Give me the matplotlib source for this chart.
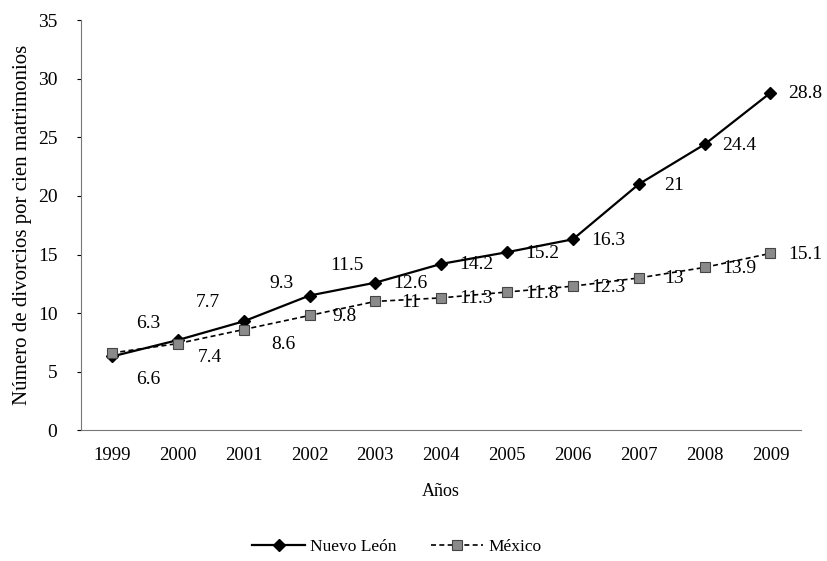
import matplotlib
matplotlib.use('Agg')
import matplotlib.pyplot as plt

plt.rcParams['font.family'] = ['Liberation Serif', 'DejaVu Serif']

# Data
years = [1999, 2000, 2001, 2002, 2003, 2004, 2005, 2006, 2007, 2008, 2009]
nuevo_leon = [6.3, 7.7, 9.3, 11.5, 12.6, 14.2, 15.2, 16.3, 21, 24.4, 28.8]
mexico = [6.6, 7.4, 8.6, 9.8, 11, 11.3, 11.8, 12.3, 13, 13.9, 15.1]
nl_labels = ['6.3', '7.7', '9.3', '11.5', '12.6', '14.2', '15.2', '16.3', '21', '24.4', '28.8']
mx_labels = ['6.6', '7.4', '8.6', '9.8', '11', '11.3', '11.8', '12.3', '13', '13.9', '15.1']

# label offsets in pixels (dx, dy)
nl_off = [(36, 33), (30, 38), (38, 38), (37, 30)] + [(35, -1)] * 7
mx_off = [(36, -27), (32, -14), (40, -15)] + [(35, -1)] * 8

fig = plt.figure(figsize=(8.27, 5.61), dpi=100)
ax = fig.add_axes([0.098, 0.233, 0.871, 0.731])

ax.plot(years, nuevo_leon, color='black', lw=1.6, marker='D', ms=6.5,
        mfc='black', mec='black', label='Nuevo León', zorder=3)
ax.plot(years, mexico, color='black', lw=1.2, ls=(0, (3, 2)), marker='s', ms=7.5,
        mfc='#8a8a8a', mec='#444444', mew=0.8, label='México', zorder=3)

for x, y, t, (dx, dy) in zip(years, nuevo_leon, nl_labels, nl_off):
    ax.annotate(t, (x, y), xytext=(dx, dy), textcoords='offset pixels',
                ha='center', va='center', fontsize=14)
for x, y, t, (dx, dy) in zip(years, mexico, mx_labels, mx_off):
    ax.annotate(t, (x, y), xytext=(dx, dy), textcoords='offset pixels',
                ha='center', va='center', fontsize=14)

ax.set_xlim(1998.53, 2009.47)
ax.set_ylim(0, 35)
ax.set_yticks(range(0, 36, 5))
ax.set_xticks(years)
ax.tick_params(axis='x', length=0, labelsize=13.5, pad=12)
ax.tick_params(axis='y', length=3, width=0.8, labelsize=14, pad=14)
ax.spines['top'].set_visible(False)
ax.spines['right'].set_visible(False)
ax.spines['left'].set_color('#777777')
ax.spines['bottom'].set_color('#777777')

ax.set_xlabel('Años', fontsize=13, labelpad=14)
ax.set_ylabel('Número de divorcios por cien matrimonios', fontsize=15, labelpad=4)

fig.legend(loc='center', bbox_to_anchor=(0.48, 0.025), ncol=2, frameon=False,
           fontsize=12.5, handlelength=3, handletextpad=0.3, columnspacing=2.0)

fig.savefig('out.png', dpi=100)
